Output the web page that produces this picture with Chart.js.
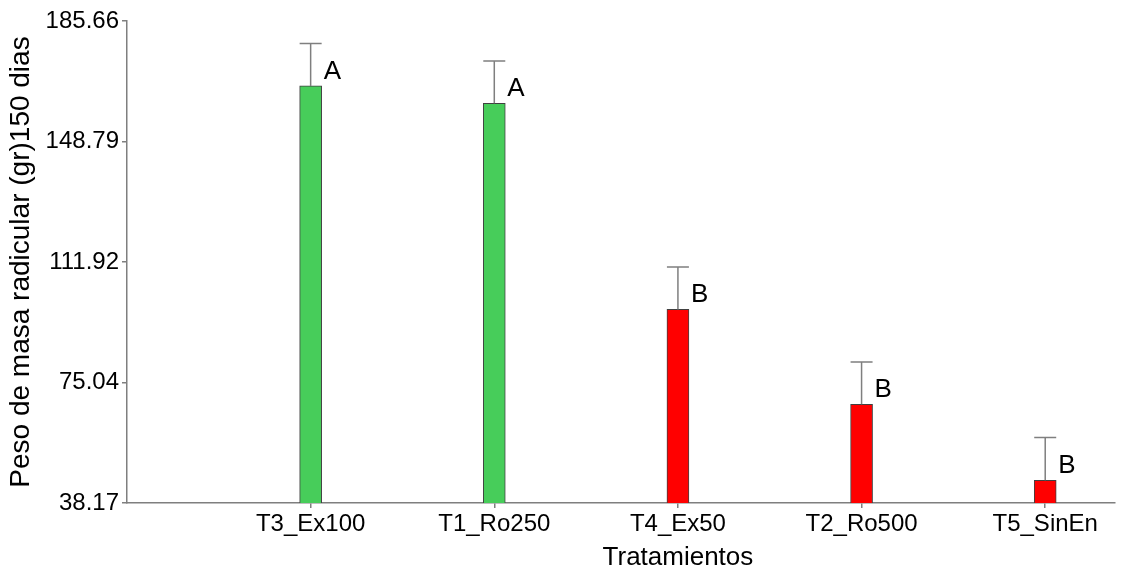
<!DOCTYPE html>
<html>
<head>
<meta charset="utf-8">
<script src="https://cdn.jsdelivr.net/npm/chart.js@4/dist/chart.umd.min.js"></script>
<style>
  html, body { margin: 0; padding: 0; background: #ffffff; }
  #wrap { position: relative; width: 1122px; height: 572px; }
</style>
</head>
<body>
<div id="wrap"><canvas id="c"></canvas></div>
<script>
// ---- data ----
const categories = ['T3_Ex100', 'T1_Ro250', 'T4_Ex50', 'T2_Ro500', 'T5_SinEn'];
const means      = [165.8, 160.5, 97.4, 68.4, 45.1];
const upperErr   = [178.8, 173.4, 110.4, 81.3, 58.2];
const letters    = ['A', 'A', 'B', 'B', 'B'];
const barColors  = ['#47CD5A', '#47CD5A', '#FF0000', '#FF0000', '#FF0000'];
const yTicks     = [38.17, 75.04, 111.92, 148.79, 185.66];
const xTitle     = 'Tratamientos';
const yTitle     = 'Peso de masa radicular (gr)150 dias';

const FONT = "'Liberation Sans', Arial, sans-serif";
const AXIS = '#7f7f7f';

const extras = {
  id: 'extras',
  afterDatasetsDraw(chart) {
    const ctx = chart.ctx;
    const meta = chart.getDatasetMeta(0);
    const ys = chart.scales.y;
    const xs = chart.scales.x;
    ctx.save();
    meta.data.forEach((bar, i) => {
      const x = bar.x;
      const yTop = ys.getPixelForValue(upperErr[i]);
      const half = 11;
      ctx.strokeStyle = AXIS;
      ctx.lineWidth = 1.5;
      ctx.beginPath();
      ctx.moveTo(x, bar.y);
      ctx.lineTo(x, yTop);
      ctx.moveTo(x - half, yTop);
      ctx.lineTo(x + half, yTop);
      ctx.stroke();
      ctx.fillStyle = '#000';
      ctx.font = '26px ' + FONT;
      ctx.textAlign = 'left';
      ctx.textBaseline = 'alphabetic';
      ctx.fillText(letters[i], x + 13, bar.y - 7);
    });
    // x axis title, centred on the treatments
    const cx = xs.getPixelForValue((1 + categories.length) / 2);
    ctx.font = '26px ' + FONT;
    ctx.textAlign = 'center';
    ctx.textBaseline = 'alphabetic';
    ctx.fillStyle = '#000';
    ctx.fillText(xTitle, cx, 565);
    ctx.restore();
  }
};

new Chart(document.getElementById('c'), {
  type: 'bar',
  data: {
    datasets: [{
      data: means.map((v, i) => ({ x: i + 1, y: v })),
      backgroundColor: barColors,
      borderColor: '#404040',
      borderWidth: 1,
      barThickness: 22
    }]
  },
  options: {
    responsive: true,
    maintainAspectRatio: false,
    animation: false,
    layout: { padding: { top: 21, right: 7, left: 0, bottom: 0 } },
    plugins: { legend: { display: false }, tooltip: { enabled: false } },
    scales: {
      x: {
        type: 'linear',
        min: 0,
        max: 5.38,
        offset: false,
        afterBuildTicks: s => { s.ticks = categories.map((c, i) => ({ value: i + 1 })); },
        afterFit: s => { s.height = 69; },
        ticks: {
          callback: v => categories[v - 1],
          autoSkip: false,
          maxRotation: 0,
          padding: 2,
          color: '#000',
          font: { family: FONT, size: 24 }
        },
        grid: { offset: false, drawOnChartArea: false, drawTicks: true, tickLength: 5, color: AXIS, lineWidth: 1.5 },
        border: { display: true, color: AXIS, width: 1.5 },
        title: { display: false }
      },
      y: {
        min: 38.17,
        max: 185.66,
        afterBuildTicks: s => { s.ticks = yTicks.map(v => ({ value: v })); },
        afterFit: s => { s.width = 127; },
        ticks: {
          callback: v => Number(v).toFixed(2),
          padding: 3,
          color: '#000',
          font: { family: FONT, size: 24 }
        },
        grid: { drawOnChartArea: false, drawTicks: true, tickLength: 5, color: AXIS, lineWidth: 1.5 },
        border: { display: true, color: AXIS, width: 1.5 },
        title: {
          display: true,
          text: yTitle,
          color: '#000',
          padding: { top: 4, bottom: 0 },
          font: { family: FONT, size: 28 }
        }
      }
    }
  },
  plugins: [extras]
});
</script>
</body>
</html>
